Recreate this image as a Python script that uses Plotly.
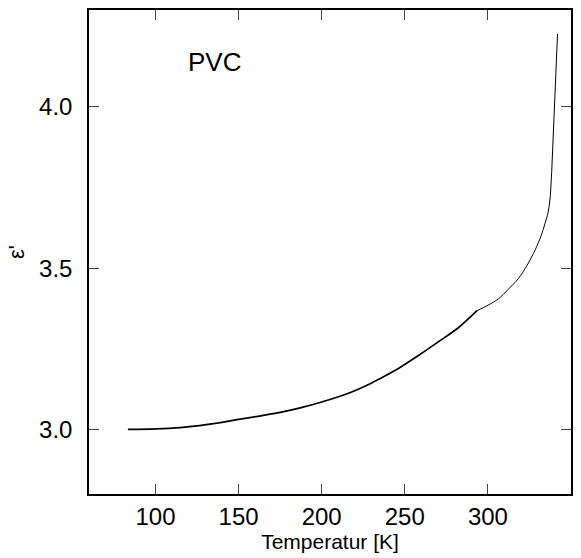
import plotly.graph_objects as go

# Segment below the kink (~293 K)
temp_low = [83.4, 100, 115, 126.5, 140, 150, 162, 175, 186.5, 200, 216.5, 226, 234.4, 246.4, 258.4, 270, 282.4, 293.4]
eps_low = [3.000, 3.002, 3.006, 3.012, 3.022, 3.031, 3.041, 3.053, 3.066, 3.085, 3.113, 3.134, 3.156, 3.190, 3.230, 3.271, 3.316, 3.368]

# Curved segment above the kink
temp_mid = [293.4, 300, 306.4, 312, 318.4, 323.5, 328.4, 332, 334.4, 335.8, 336.8]
eps_mid = [3.368, 3.385, 3.405, 3.433, 3.468, 3.508, 3.556, 3.600, 3.639, 3.663, 3.690]

# Steep final rise
temp_top = [336.8, 337.6, 338.4, 340.0, 341.9]
eps_top = [3.690, 3.725, 3.800, 4.000, 4.226]

x_ticks = [100, 150, 200, 250, 300, 350]
y_ticks = [3.0, 3.5, 4.0]
y_tick_text = ["3.0", "3.5", "4.0"]

FONT = "Liberation Sans, Arial, sans-serif"

fig = go.Figure()
fig.add_trace(go.Scatter(x=temp_low, y=eps_low, mode="lines",
                         line=dict(color="black", width=1.7, shape="spline", smoothing=1.0),
                         showlegend=False))
fig.add_trace(go.Scatter(x=temp_mid, y=eps_mid, mode="lines",
                         line=dict(color="black", width=1.0, shape="spline", smoothing=0.8),
                         showlegend=False))
fig.add_trace(go.Scatter(x=temp_top, y=eps_top, mode="lines",
                         line=dict(color="black", width=1.0),
                         showlegend=False))

fig.add_annotation(x=135.4, y=4.139, text="PVC", showarrow=False,
                   font=dict(family=FONT, size=26, color="black"),
                   xanchor="center", yanchor="middle")

axis_common = dict(
    showgrid=False, zeroline=False,
    showline=True, linecolor="black", linewidth=1.5, mirror="ticks",
    ticks="inside", ticklen=10, tickwidth=1, tickcolor="#444",
    tickfont=dict(family=FONT, size=24, color="black"),
)

fig.update_layout(
    width=581, height=558,
    margin=dict(l=89, r=8, t=10, b=64),
    paper_bgcolor="white", plot_bgcolor="white",
    xaxis=dict(range=[60, 350], tickvals=x_ticks, ticktext=[str(v) for v in x_ticks],
               ticklabelstandoff=0,
               title=dict(text="Temperatur [K]", font=dict(family=FONT, size=21, color="black"), standoff=2),
               **axis_common),
    yaxis=dict(range=[2.8, 4.3], tickvals=y_ticks, ticktext=y_tick_text,
               ticklabelstandoff=10,
               title=dict(text="ε'", font=dict(family=FONT, size=22, color="black"), standoff=8),
               **axis_common),
)

fig.write_html("out.html")
